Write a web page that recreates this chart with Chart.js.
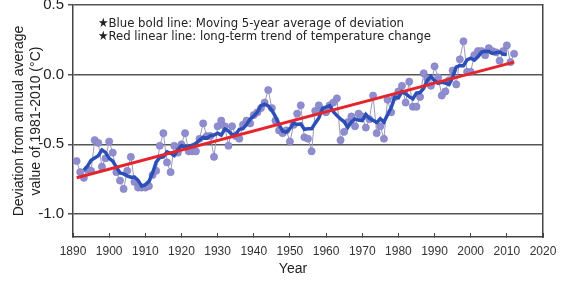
<!DOCTYPE html>
<html>
<head>
<meta charset="utf-8">
<script src="https://cdn.jsdelivr.net/npm/chart.js@4"></script>
<style>
  html, body { margin: 0; padding: 0; background: #fff; }
  #wrap { position: relative; width: 569px; height: 286px; }
  #wrap canvas { position: absolute; left: 0; top: 0; }
  #notes {
    position: absolute; left: 98px; top: 16px; z-index: 2;
    font: 13px/13px "DejaVu Sans Condensed", "DejaVu Sans", sans-serif;
    color: #222; white-space: nowrap;
  }
</style>
</head>
<body>
<div id="wrap">
  <canvas id="frame" width="569" height="286"></canvas>
  <canvas id="chart" width="569" height="286"></canvas>
  <div id="notes">
    <div>&#9733;Blue bold line: Moving 5-year average of deviation</div>
    <div>&#9733;Red linear line: long-term trend of temperature change</div>
  </div>
</div>
<script>
// annual deviation from the 1981-2010 average, one value per year from 1891
var firstYear = 1891;
var anomalies = [
  -0.62, -0.70, -0.74, -0.68, -0.69, -0.47, -0.49, -0.66, -0.60, -0.48,
  -0.56, -0.70, -0.76, -0.82, -0.69, -0.59, -0.77, -0.81, -0.81, -0.81,
  -0.80, -0.72, -0.69, -0.51, -0.42, -0.63, -0.70, -0.51, -0.56, -0.50,
  -0.42, -0.55, -0.55, -0.55, -0.46, -0.35, -0.44, -0.44, -0.59, -0.37,
  -0.33, -0.37, -0.51, -0.37, -0.44, -0.46, -0.36, -0.33, -0.35, -0.29,
  -0.27, -0.24, -0.20, -0.11, -0.24, -0.33, -0.40, -0.42, -0.40, -0.48,
  -0.36, -0.28, -0.22, -0.45, -0.46, -0.55, -0.26, -0.22, -0.25, -0.27,
  -0.22, -0.20, -0.17, -0.47, -0.41, -0.34, -0.30, -0.37, -0.28, -0.30,
  -0.38, -0.32, -0.15, -0.42, -0.37, -0.46, -0.18, -0.27, -0.16, -0.12,
  -0.08, -0.20, -0.05, -0.23, -0.23, -0.16, 0.01, -0.03, -0.08, 0.06,
  -0.02, -0.15, -0.12, -0.04, 0.03, -0.07, 0.11, 0.24, 0.02, 0.02,
  0.14, 0.17, 0.17, 0.14, 0.19, 0.17, 0.16, 0.10, 0.17, 0.21,
  0.09, 0.15
];

// red long-term trend line, read at its two ends
var trendYears = [1891, 2012];
var trendValues = [-0.74, 0.09];

var xTicks = [1890, 1900, 1910, 1920, 1930, 1940, 1950, 1960, 1970, 1980, 1990, 2000, 2010, 2020];
var yTicks = [0.5, 0.0, -0.5, -1.0];

var yMin = -1.165, yMax = 0.5;
var xMin = 1890, xMax = 2020;

var annual = anomalies.map(function (v, i) {
  return { x: firstYear + i, y: v };
});

// moving 5-year average (centred)
var moving = [];
for (var i = 2; i < anomalies.length - 2; i++) {
  var sum = 0;
  for (var k = -2; k <= 2; k++) sum += anomalies[i + k];
  moving.push({ x: firstYear + i, y: sum / 5 });
}

var trend = trendYears.map(function (yr, i) {
  return { x: yr, y: trendValues[i] };
});

// back canvas: axes, grid, labels, titles
var frameChart = new Chart(document.getElementById("frame"), {
  type: "line",
  data: { datasets: [] },
  options: {
    responsive: false,
    animation: false,
    layout: { padding: { left: 17, top: 5, right: 0, bottom: 0 } },
    plugins: {
      legend: { display: false },
      tooltip: { enabled: false },
      title: {
        display: true,
        position: "bottom",
        text: "Year",
        color: "#222",
        font: { size: 14, weight: "normal" },
        padding: { top: 0, bottom: 8.2 },
      },
    },
    scales: {
      x: {
        type: "linear",
        min: xMin,
        max: xMax,
        afterBuildTicks: function (s) {
          s.ticks = xTicks.map(function (v) { return { value: v }; });
        },
        afterFit: function (s) { s.height = 24; },
        grid: { display: true, drawOnChartArea: false, color: "#444", tickLength: -4 },
        border: { display: true, color: "#444", width: 1.5 },
        ticks: {
          padding: 11,
          color: "#333",
          maxRotation: 0,
          autoSkip: false,
          font: { size: 12 },
          callback: function (v) { return String(v); },
        },
      },
      y: {
        min: yMin,
        max: yMax,
        afterBuildTicks: function (s) {
          s.ticks = yTicks.map(function (v) { return { value: v }; });
        },
        afterFit: function (s) {
          s.width = 56;
          s.paddingTop = 0;
          s.paddingBottom = 0;
        },
        grid: { color: "#555", lineWidth: 1.5, tickLength: 5 },
        border: { color: "#444", width: 1.5 },
        ticks: {
          padding: 4,
          color: "#222",
          font: { size: 15 },
          callback: function (v) { return v.toFixed(1); },
        },
        title: {
          display: true,
          text: ["Deviation from annual average", "value of 1981-2010 (\u00B0C)"],
          color: "#222",
          font: { size: 14 },
          padding: { top: -6, bottom: 0 },
        },
      },
      y2: {
        position: "right",
        min: yMin,
        max: yMax,
        afterFit: function (s) { s.width = 26; },
        grid: { drawOnChartArea: false, drawTicks: false },
        border: { color: "#444", width: 1.5 },
        ticks: { display: false },
      },
    },
  },
});

// front canvas: the three series, same plot area as the frame
var myChart = new Chart(document.getElementById("chart"), {
  type: "line",
  data: {
    datasets: [
      {
        label: "Trend",
        data: trend,
        borderColor: "#e5252e",
        borderWidth: 3,
        pointRadius: 0,
      },
      {
        label: "Moving 5-year average",
        data: moving,
        borderColor: "#2b4fb6",
        borderWidth: 3.5,
        pointRadius: 0,
      },
      {
        label: "Annual",
        data: annual,
        borderColor: "#9a98bc",
        borderWidth: 1,
        pointRadius: 3.6,
        pointBackgroundColor: "#8f8dd0",
        pointBorderColor: "#7f7dc0",
        pointBorderWidth: 0.6,
      },
    ],
  },
  options: {
    responsive: false,
    animation: false,
    layout: { padding: { left: 73, top: 5, right: 26, bottom: 49 } },
    plugins: {
      legend: { display: false },
      tooltip: { enabled: false },
    },
    scales: {
      x: { type: "linear", min: xMin, max: xMax, display: false },
      y: { min: yMin, max: yMax, display: false },
    },
  },
});
</script>
</body>
</html>
